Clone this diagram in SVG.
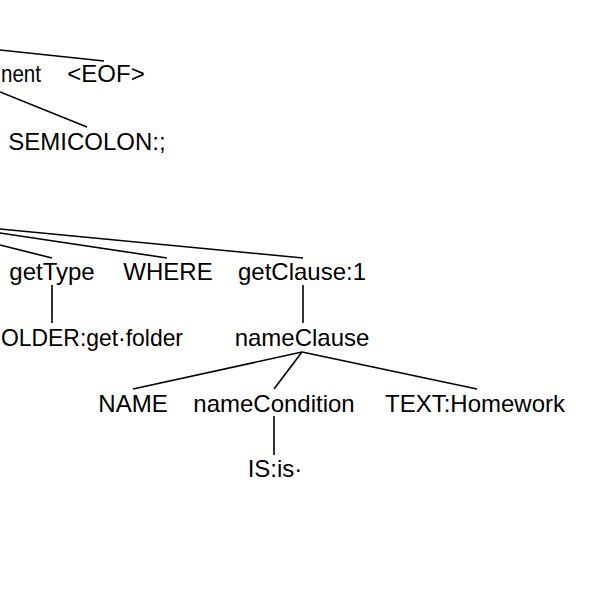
<svg xmlns="http://www.w3.org/2000/svg" width="602" height="602" viewBox="0 0 602 602">
<style>
text{font-family:"Liberation Sans",Arial,Helvetica,sans-serif;font-size:24px;fill:#000;text-anchor:middle}
.s{text-anchor:start}
.e{fill:none;stroke:#000;stroke-width:1.6}
</style>
<rect width="602" height="602" fill="#fff"/>
<g id="connectors">
<line class="e" x1="0" y1="50" x2="104" y2="61"/>
<line class="e" x1="0" y1="92" x2="87" y2="127"/>
<line class="e" x1="0" y1="229" x2="303" y2="258"/>
<line class="e" x1="0" y1="233" x2="167" y2="258"/>
<line class="e" x1="0" y1="245" x2="52" y2="258"/>
<line class="e" x1="52" y1="285" x2="52" y2="323"/>
<line class="e" x1="303" y1="285" x2="303" y2="323"/>
<line class="e" x1="302" y1="352" x2="133" y2="389"/>
<line class="e" x1="302" y1="352" x2="274" y2="389"/>
<line class="e" x1="302" y1="352" x2="477" y2="389"/>
<line class="e" x1="274" y1="416" x2="274" y2="455"/>
</g>
<g id="n-statement"><text class="s" x="1" y="82" textLength="40" lengthAdjust="spacingAndGlyphs">nent</text></g>
<g id="n-eof"><text x="106" y="82">&lt;EOF&gt;</text></g>
<g id="n-semicolon"><text x="87" y="150">SEMICOLON:;</text></g>
<g id="n-gettype"><text x="52" y="280">getType</text></g>
<g id="n-where"><text x="168" y="280">WHERE</text></g>
<g id="n-getclause"><text x="302" y="280">getClause:1</text></g>
<g id="n-folder"><text class="s" x="1" y="346" textLength="182" lengthAdjust="spacingAndGlyphs">OLDER:get·folder</text></g>
<g id="n-nameclause"><text x="302" y="346">nameClause</text></g>
<g id="n-name"><text x="133" y="412">NAME</text></g>
<g id="n-namecondition"><text x="274" y="412">nameCondition</text></g>
<g id="n-text"><text x="475" y="412">TEXT:Homework</text></g>
<g id="n-is"><text x="275" y="477">IS:is·</text></g>
</svg>
